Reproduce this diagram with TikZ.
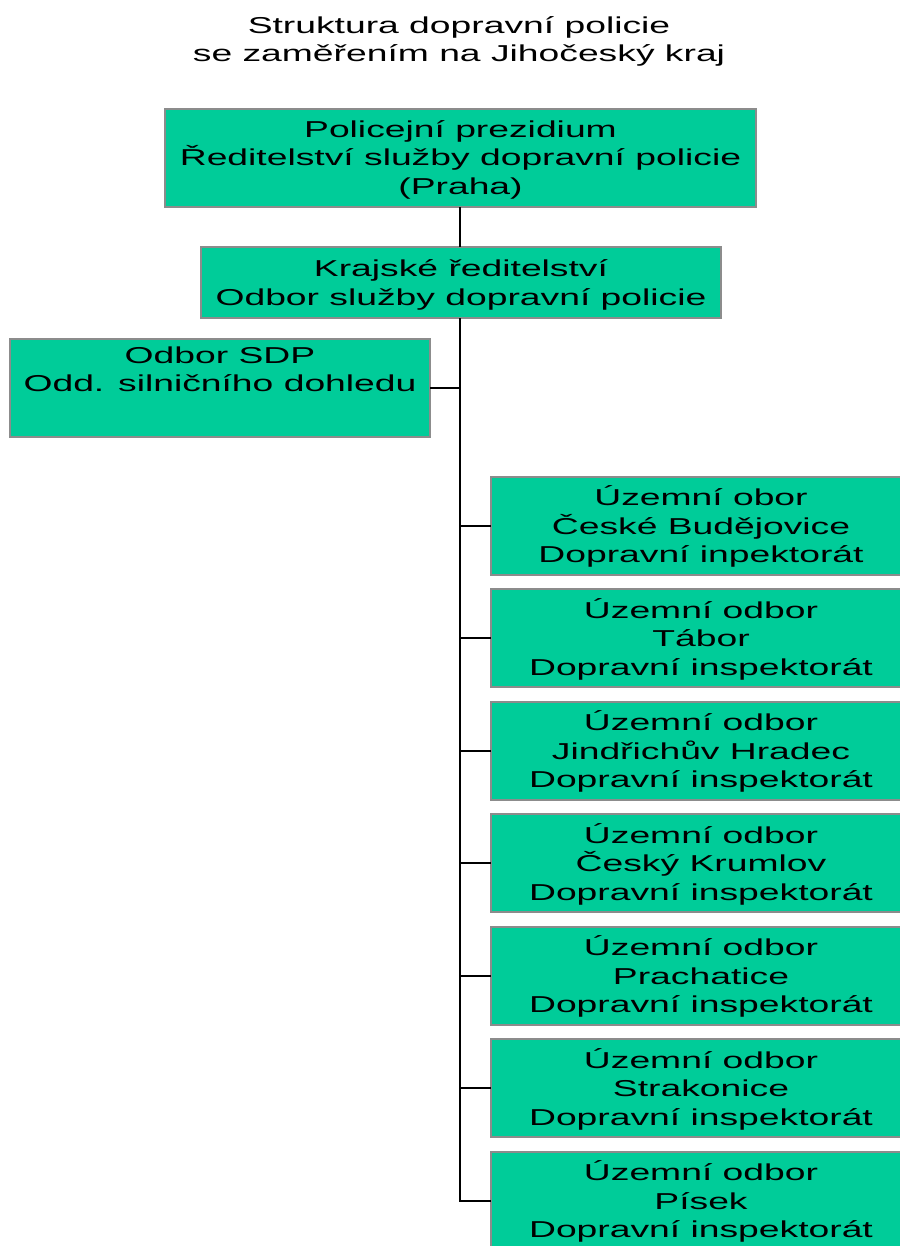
\documentclass[tikz,border=0pt]{standalone}
\usepackage{fontspec}
\newfontfamily\boxfont[FakeStretch=1.62]{Liberation Sans}
\definecolor{boxfill}{RGB}{0,204,153}
\definecolor{boxline}{RGB}{140,140,140}
\newcommand\tstrut{\rule{0pt}{22pt}}
\begin{document}
\begin{tikzpicture}[x=1pt,y=-1pt,
  orgbox/.style={draw=boxline,line width=2pt,fill=boxfill,inner sep=0pt,outer sep=0pt,anchor=north west,minimum width=#1},
  orgtext/.style={font=\boxfont\fontsize{23}{28.5}\selectfont,align=center,inner sep=0pt,anchor=north},
  conn/.style={line width=2pt,black}]
\useasboundingbox (0,0) rectangle (899,1246);
\clip (-5,-5) rectangle (910,1260);
\fill[white] (-5,-5) rectangle (910,1260);
% title
\node[orgtext] (title) at (459,11) {\tstrut Struktura dopravní policie\\se zaměřením na Jihočeský kraj};
% boxes
\node[orgbox=591pt,minimum height=98pt] (top) at (165,109) {};
\node[orgbox=520pt,minimum height=71pt] (kr) at (201,247) {};
\node[orgbox=420pt,minimum height=98pt] (left) at (10,339) {};
\foreach \i/\t in {0/477,1/589,2/702,3/814,4/927,5/1039,6/1152}{
  \node[orgbox=440pt,minimum height=98pt] (r\i) at (491,\t) {};
}
% connectors
\draw[conn] (top.south -| 460,0) -- (kr.north -| 460,0);
\draw[conn] (kr.south -| 460,0) -- (r6.west -| 460,0) -- (r6.west);
\draw[conn] (left.east) -- (left.east -| 460,0);
\foreach \i in {0,...,5}{
  \draw[conn] (r\i.west -| 460,0) -- (r\i.west);
}
% texts
\node[orgtext] (ttop) at (460.5,115) {\tstrut Policejní prezidium\\Ředitelství služby dopravní policie\\(Praha)};
\node[orgtext] (tkr) at (461,254.7) {\tstrut Krajské ředitelství\\Odbor služby dopravní policie};
\node[orgtext] (tleft) at (220,341) {\tstrut Odbor SDP\\Odd. silničního dohledu};
\node[orgtext] (tr0) at (701,483.5) {\tstrut Územní obor\\České Budějovice\\Dopravní inpektorát};
\node[orgtext] (tr1) at (701,596) {\tstrut Územní odbor\\Tábor\\Dopravní inspektorát};
\node[orgtext] (tr2) at (701,708.5) {\tstrut Územní odbor\\Jindřichův Hradec\\Dopravní inspektorát};
\node[orgtext] (tr3) at (701,821) {\tstrut Územní odbor\\Český Krumlov\\Dopravní inspektorát};
\node[orgtext] (tr4) at (701,933.5) {\tstrut Územní odbor\\Prachatice\\Dopravní inspektorát};
\node[orgtext] (tr5) at (701,1046) {\tstrut Územní odbor\\Strakonice\\Dopravní inspektorát};
\node[orgtext] (tr6) at (701,1158.5) {\tstrut Územní odbor\\Písek\\Dopravní inspektorát};
\end{tikzpicture}
\end{document}
